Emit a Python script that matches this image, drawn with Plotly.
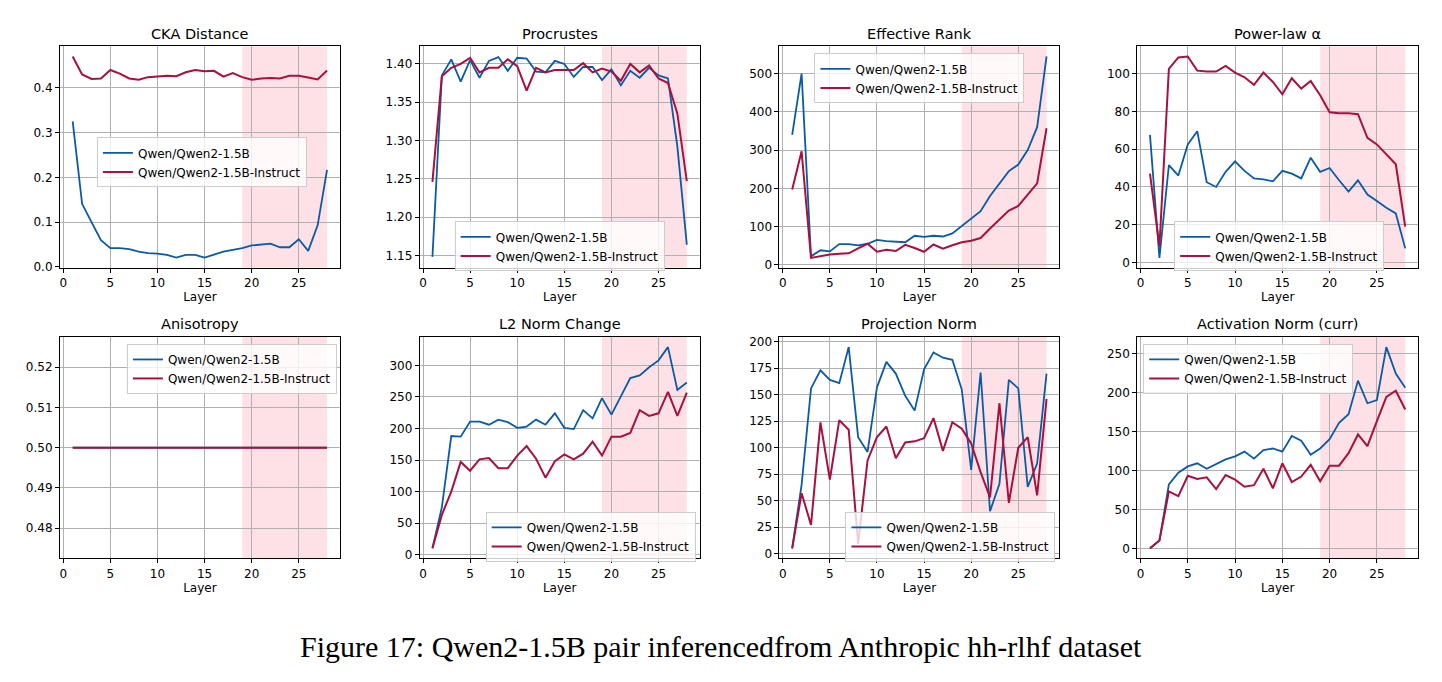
import plotly.graph_objects as go

W, H = 1442, 682
layers = list(range(1, 29))

titles = ["CKA Distance", "Procrustes", "Effective Rank", "Power-law α",
          "Anisotropy", "L2 Norm Change", "Projection Norm", "Activation Norm (curr)"]
series_names = ["Qwen/Qwen2-1.5B", "Qwen/Qwen2-1.5B-Instruct"]

cka_base = [0.325, 0.141, 0.100, 0.060, 0.042, 0.042, 0.040, 0.034, 0.031, 0.030, 0.027, 0.021, 0.027, 0.027,
            0.021, 0.028, 0.034, 0.038, 0.042, 0.048, 0.050, 0.052, 0.044, 0.044, 0.062, 0.036, 0.093, 0.217]
cka_inst = [0.470, 0.430, 0.420, 0.421, 0.440, 0.432, 0.421, 0.418, 0.424, 0.425, 0.427, 0.426, 0.435, 0.440,
            0.437, 0.438, 0.425, 0.433, 0.424, 0.418, 0.421, 0.422, 0.421, 0.427, 0.427, 0.423, 0.419, 0.439]

proc_base = [1.148, 1.385, 1.406, 1.377, 1.405, 1.382, 1.404, 1.409, 1.391, 1.408, 1.407, 1.390, 1.389, 1.404,
             1.400, 1.383, 1.396, 1.396, 1.379, 1.393, 1.372, 1.391, 1.382, 1.395, 1.385, 1.381, 1.292, 1.164]
proc_inst = [1.246, 1.384, 1.395, 1.400, 1.408, 1.389, 1.395, 1.395, 1.406, 1.397, 1.365, 1.395, 1.389, 1.392,
             1.392, 1.392, 1.401, 1.389, 1.394, 1.390, 1.378, 1.400, 1.389, 1.398, 1.381, 1.375, 1.335, 1.247]

er_base = [340, 500, 22, 38, 35, 54, 54, 51, 55, 65, 62, 60, 59, 76,
           73, 76, 74, 82, 102, 120, 140, 180, 213, 245, 262, 300, 360, 545]
er_inst = [197, 297, 18, 22, 27, 29, 30, 43, 55, 34, 39, 36, 52, 44,
           34, 53, 42, 51, 59, 63, 70, 95, 118, 142, 154, 185, 213, 357]

pl_base = [67.5, 2.5, 51.5, 46, 62.5, 69.5, 42.5, 40, 48, 53.5, 48.5, 44.5, 44, 43,
           48.5, 47, 44.5, 55.5, 48, 50, 43.5, 37.5, 43.5, 36, 32.5, 29, 26, 7.5]
pl_inst = [47, 8.5, 102.5, 108.5, 109, 101.5, 101, 101, 104, 100.5, 98, 94, 100.5, 95.5,
           89, 97.5, 92, 96, 88.5, 79.5, 79, 79, 78.5, 66, 62.5, 57.5, 52, 19]

an_base = [0.5] * 28
an_inst = [0.5] * 28

l2_base = [10, 75, 188, 187, 211, 211, 206, 214, 210, 201, 203, 214, 206, 224,
           201, 199, 229, 216, 248, 222, 251, 280, 284, 297, 308, 329, 261, 273]
l2_inst = [10, 63, 100, 147, 133, 151, 153, 137, 137, 157, 172, 152, 122, 148,
           159, 151, 160, 179, 157, 187, 187, 193, 229, 220, 224, 258, 220, 257]

pn_base = [5, 65, 156, 173, 164, 161, 195, 110, 96, 157, 181, 170, 149, 135,
           174, 190, 185, 183, 155, 79, 171, 40, 66, 164, 156, 63, 85, 170]
pn_inst = [5, 57, 27, 124, 70, 126, 117, 9, 88, 110, 120, 90, 105, 106,
           109, 128, 97, 124, 118, 104, 77, 53, 142, 48, 100, 110, 55, 146]

act_base = [0, 10, 82, 97, 105, 109, 102, 108, 114, 118, 124, 115, 126, 128,
            124, 144, 138, 120, 128, 140, 161, 172, 215, 186, 190, 258, 224, 206]
act_inst = [0, 10, 73, 67, 93, 89, 91, 76, 94, 88, 79, 81, 102, 77,
            109, 85, 92, 107, 86, 106, 106, 122, 146, 131, 163, 194, 202, 178]

data = [(cka_base, cka_inst), (proc_base, proc_inst), (er_base, er_inst), (pl_base, pl_inst),
        (an_base, an_inst), (l2_base, l2_inst), (pn_base, pn_inst), (act_base, act_inst)]

x_ticks = [0, 5, 10, 15, 20, 25]
y_ticks = [[0.0, 0.1, 0.2, 0.3, 0.4], [1.15, 1.20, 1.25, 1.30, 1.35, 1.40], [0, 100, 200, 300, 400, 500],
           [0, 20, 40, 60, 80, 100], [0.48, 0.49, 0.50, 0.51, 0.52], [0, 50, 100, 150, 200, 250, 300],
           [0, 25, 50, 75, 100, 125, 150, 175, 200], [0, 50, 100, 150, 200, 250]]
y_fmt = [".1f", ".2f", "d", "d", ".2f", "d", "d", "d"]
y_ranges = [[-0.002, 0.4925], [1.1337, 1.4228], [-8, 571], [-2.8, 114.3],
            [0.4725, 0.5275], [-6, 345], [-4.5, 204.5], [-12.9, 270.9]]
shade_span = (19, 28)

BLUE = "#0a5aa6"
RED = "#a8103e"
SHADE = "rgba(250,170,185,0.35)"

# plot boxes in pixels (left, right, top, bottom)
col_x = [(59, 339), (419, 699), (779, 1059), (1137, 1418)]
row_y = [(45, 269), (339, 563)]
legend_boxes = [(96, 137), (454, 222), (814, 52), (1174, 222),
                (126, 346), (485, 516), (845, 516), (1143, 346)]

fig = go.Figure()
layout = dict(width=W, height=H, margin=dict(l=0, r=0, t=0, b=0),
              paper_bgcolor="white", plot_bgcolor="white", showlegend=True,
              font=dict(family="DejaVu Sans", size=12, color="black"))
annotations = []
shapes = []

for i in range(8):
    r, c = divmod(i, 4)
    n = i + 1
    xa = "xaxis" if n == 1 else f"xaxis{n}"
    ya = "yaxis" if n == 1 else f"yaxis{n}"
    xr = "x" if n == 1 else f"x{n}"
    yr = "y" if n == 1 else f"y{n}"
    lg = "legend" if n == 1 else f"legend{n}"
    l, rr = col_x[c]
    t, b = row_y[r]
    common = dict(showline=True, linecolor="black", linewidth=1, mirror=True,
                  ticks="outside", ticklen=4, tickcolor="black", tickwidth=1,
                  showgrid=True, gridcolor="#b0b0b0", gridwidth=1, zeroline=False,
                  tickfont=dict(family="DejaVu Sans", size=12, color="black"))
    layout[xa] = dict(domain=[l / W, rr / W], anchor=yr, range=[-0.35, 29.35],
                      tickvals=x_ticks, title=dict(text="Layer", standoff=2,
                                                    font=dict(size=12, family="DejaVu Sans")),
                      **common)
    layout[ya] = dict(domain=[1 - b / H, 1 - t / H], anchor=xr, range=y_ranges[i],
                      tickvals=y_ticks[i], tickformat=y_fmt[i], **common)
    base, inst = data[i]
    fig.add_trace(go.Scatter(x=layers, y=base, mode="lines", name=series_names[0],
                             line=dict(color=BLUE, width=1.8), xaxis=xr, yaxis=yr, legend=lg))
    fig.add_trace(go.Scatter(x=layers, y=inst, mode="lines", name=series_names[1],
                             line=dict(color=RED, width=2.0), xaxis=xr, yaxis=yr, legend=lg))
    shapes.append(dict(type="rect", xref=xr, yref=f"{yr} domain", x0=shade_span[0], x1=shade_span[1],
                       y0=0, y1=1, fillcolor=SHADE, line=dict(width=0), layer="below"))
    annotations.append(dict(text=titles[i], x=(l + rr) / 2 / W, y=1 - (t - 3) / H,
                            xref="paper", yref="paper", xanchor="center", yanchor="bottom",
                            showarrow=False, font=dict(family="DejaVu Sans", size=14.5, color="black")))
    lx, ly = legend_boxes[i]
    layout[lg] = dict(x=lx / W, y=1 - ly / H, xanchor="left", yanchor="top",
                      bgcolor="rgba(255,255,255,0.8)", bordercolor="#cccccc", borderwidth=1,
                      font=dict(family="DejaVu Sans", size=12, color="black"),
                      tracegroupgap=0, itemwidth=30)

annotations.append(dict(text="Figure 17: Qwen2-1.5B pair inferencedfrom Anthropic hh-rlhf dataset",
                        x=720 / W, y=1 - 652 / H, xref="paper", yref="paper",
                        xanchor="center", yanchor="middle", showarrow=False,
                        font=dict(family="Liberation Serif", size=30, color="black")))
layout["annotations"] = annotations
layout["shapes"] = shapes
fig.update_layout(**layout)
fig.write_html("out.html")
